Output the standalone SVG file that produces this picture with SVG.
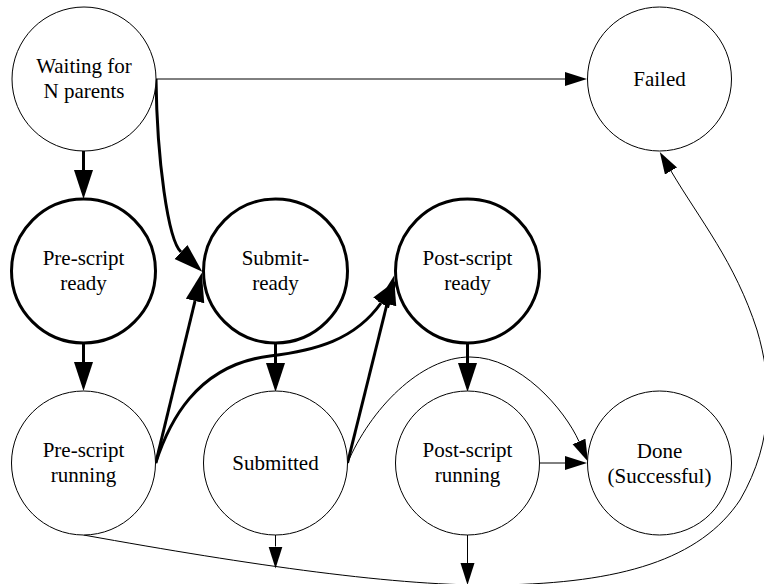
<svg xmlns="http://www.w3.org/2000/svg" width="764" height="584" viewBox="0 0 764 584">
<style>
.n{fill:#fff;stroke:#000;stroke-width:1}
.b{stroke-width:3}
.e{fill:none;stroke:#000;stroke-width:1}
.k{fill:none;stroke:#000;stroke-width:3}
text{font-family:'Liberation Serif','Times New Roman',Times,'Nimbus Roman','Nimbus Roman No9 L',Tinos,FreeSerif,'DejaVu Serif','Noto Serif',Georgia,serif;font-size:21px;text-anchor:middle;fill:#000}
</style>
<defs>
<marker id="a" markerUnits="userSpaceOnUse" markerWidth="24" markerHeight="16" refX="0" refY="7" orient="auto" viewBox="0 0 24 16">
<path d="M0,0 L22,7 L0,14 z" fill="#000"/>
</marker>
<marker id="A" markerUnits="userSpaceOnUse" markerWidth="32" markerHeight="22" refX="0" refY="9.5" orient="auto" viewBox="0 0 32 22">
<path d="M0,0 L29,9.5 L0,19 z" fill="#000"/>
</marker>
</defs>
<g id="connectors">
<path class="e" d="M156,79 L565,79" marker-end="url(#a)"/>
<path class="k" d="M83.5,151 L83.5,170" marker-end="url(#A)"/>
<path class="k" d="M156,79 C157,160 168,240 181,252" marker-end="url(#A)"/>
<path class="k" d="M83.5,343 L83.5,362" marker-end="url(#A)"/>
<path class="k" d="M155.7,463 L195,301" marker-end="url(#A)"/>
<path class="k" d="M155.7,463 C168,425 195,365 270,356 C315,350.6 355,340 381,303" marker-end="url(#A)"/>
<path class="k" d="M275.5,343 L275.5,363" marker-end="url(#A)"/>
<path class="k" d="M347.5,463 L387,304" marker-end="url(#A)"/>
<path class="e" d="M347.5,463 C370,410 420,357 470,357 C520,357 565,410 579,441.5" marker-end="url(#a)"/>
<path class="k" d="M467.5,343 L467.5,363" marker-end="url(#A)"/>
<path class="e" d="M539.5,463 L565,463" marker-end="url(#a)"/>
<path class="e" d="M275.5,535 L275.5,546.5" marker-end="url(#a)"/>
<path class="e" d="M467.5,535 L467.5,563" marker-end="url(#a)"/>
<path class="e" d="M83.5,535 C250,565 400,587 500,585 C620,583 700,560 740,500 C775,440 772,380 757,330 C735,262 700,220 671,171" marker-end="url(#a)"/>
</g>
<g id="waiting"><circle class="n" cx="84" cy="79" r="72"/><text x="84" y="73">Waiting for</text><text x="84" y="98">N parents</text></g>
<g id="failed"><circle class="n" cx="659.5" cy="79" r="72"/><text x="659.5" y="86">Failed</text></g>
<g id="prescript-ready"><circle class="n b" cx="83.5" cy="271" r="72"/><text x="83.5" y="265">Pre-script</text><text x="83.5" y="290">ready</text></g>
<g id="submit-ready"><circle class="n b" cx="275.5" cy="271" r="72"/><text x="275.5" y="265">Submit-</text><text x="275.5" y="290">ready</text></g>
<g id="postscript-ready"><circle class="n b" cx="467.5" cy="271" r="72"/><text x="467.5" y="265">Post-script</text><text x="467.5" y="290">ready</text></g>
<g id="prescript-running"><circle class="n" cx="83.5" cy="463" r="72"/><text x="83.5" y="457">Pre-script</text><text x="83.5" y="482">running</text></g>
<g id="submitted"><circle class="n" cx="275.5" cy="463" r="72"/><text x="275.5" y="469.5">Submitted</text></g>
<g id="postscript-running"><circle class="n" cx="467.5" cy="463" r="72"/><text x="467.5" y="457">Post-script</text><text x="467.5" y="482">running</text></g>
<g id="done"><circle class="n" cx="659.5" cy="463" r="72"/><text x="659.5" y="458">Done</text><text x="659.5" y="483">(Successful)</text></g>
</svg>
